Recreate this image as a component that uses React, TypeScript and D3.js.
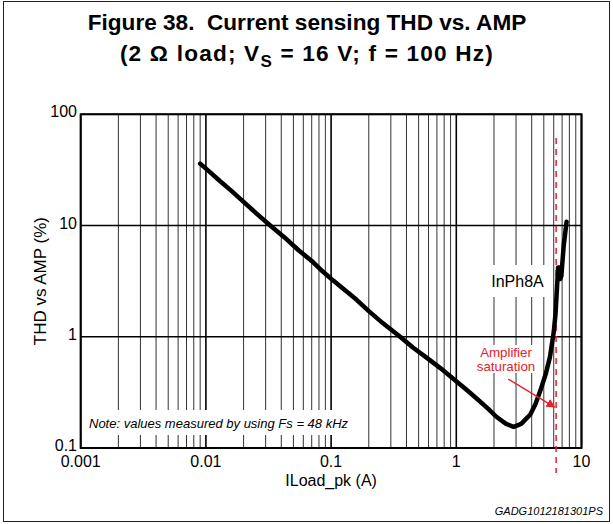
import React from 'react';
import * as d3 from 'd3';

const xTicks = [0.001, 0.01, 0.1, 1, 10];
const xTickLabels = ['0.001', '0.01', '0.1', '1', '10'];
const yTicks = [0.1, 1, 10, 100];
const yTickLabels = ['0.1', '1', '10', '100'];

const current = [0.009, 0.0105, 0.013, 0.016, 0.02, 0.025, 0.033, 0.042, 0.055, 0.07, 0.085, 0.104, 0.13, 0.16, 0.2, 0.26, 0.356, 0.45, 0.6, 0.75, 0.9, 1.05, 1.22, 1.5, 1.8, 2.1, 2.5, 2.87, 3.3, 3.9, 4.3, 4.7, 5.2, 5.6, 6.0, 6.2, 6.4, 6.5, 6.75, 6.75, 6.9, 7.2, 7.6];
const thd = [36, 31, 25, 20.5, 16.3, 13, 9.9, 7.9, 6.0, 4.8, 3.9, 3.2, 2.6, 2.15, 1.7, 1.32, 1.0, 0.8, 0.63, 0.52, 0.44, 0.38, 0.33, 0.27, 0.225, 0.19, 0.165, 0.155, 0.165, 0.2, 0.25, 0.33, 0.47, 0.66, 1.1, 1.6, 3.0, 4.2, 4.2, 3.3, 3.5, 6.5, 10.8];

const seriesName = 'InPh8A';
const saturationCurrent = 6.27;
const arrowFrom = [2.6, 0.417];
const arrowTo = [6.1, 0.233];

export default function App() {
  const W = 613, H = 524;
  const m = { l: 80.7, r: 581.5, t: 114.3, b: 448 };
  const x = d3.scaleLog().domain([0.001, 10]).range([m.l, m.r]);
  const y = d3.scaleLog().domain([0.1, 100]).range([m.b, m.t]);

  const minor: number[] = [];
  [0.001, 0.01, 0.1, 1].forEach((d) => {
    for (let k = 2; k <= 9; k++) minor.push(d * k);
  });

  const line = d3
    .line<number>()
    .x((d) => x(d))
    .y((_, i) => y(thd[i]));

  const font = 'Arial, "Liberation Sans", sans-serif';
  const red = '#e8202a';

  const ax1 = x(arrowFrom[0]), ay1 = y(arrowFrom[1]);
  const ax2 = x(arrowTo[0]), ay2 = y(arrowTo[1]);

  return (
    <svg width={W} height={H} style={{ position: 'absolute', left: 0, top: 0, background: '#fff' }} fontFamily={font}>
      <defs>
        <marker id="arr" viewBox="0 0 10 10" refX="9" refY="5" markerWidth="6" markerHeight="6" orient="auto">
          <path d="M0,0 L10,5 L0,10 z" fill={red} />
        </marker>
      </defs>
      <rect x={3.5} y={1.5} width={606} height={520} fill="#fff" stroke="#222" strokeWidth={1} />

      <text x={307} y={29.5} textAnchor="middle" fontSize={22.6} fontWeight="bold" style={{ whiteSpace: 'pre' }}>
        {'Figure 38.  Current sensing THD vs. AMP'}
      </text>
      <text x={307} y={61} textAnchor="middle" fontSize={22.6} fontWeight="bold" letterSpacing={1.2} style={{ whiteSpace: 'pre' }}>
        <tspan>{'(2 Ω load; V'}</tspan>
        <tspan fontSize={17} dy={6}>S</tspan>
        <tspan dy={-6}>{' = 16 V; f = 100 Hz)'}</tspan>
      </text>

      {/* minor vertical grid */}
      {minor.map((v, i) => (
        <line key={'mn' + i} x1={x(v)} x2={x(v)} y1={m.t} y2={m.b} stroke="#333" strokeWidth={1} />
      ))}
      {/* major grid */}
      {xTicks.map((v, i) => (
        <line key={'mx' + i} x1={x(v)} x2={x(v)} y1={m.t} y2={m.b} stroke="#000" strokeWidth={1.6} />
      ))}
      {yTicks.map((v, i) => (
        <line key={'my' + i} x1={m.l} x2={m.r} y1={y(v)} y2={y(v)} stroke="#000" strokeWidth={1.6} />
      ))}

      {/* white label boxes */}
      <rect x={86} y={410} width={272} height={25} fill="#fff" />
      <text x={89} y={427.5} fontSize={13} fontStyle="italic">Note: values measured by using Fs = 48 kHz</text>

      <rect x={485} y={265} width={63} height={32} fill="#fff" />
      <text x={x(3.08)} y={287} textAnchor="middle" fontSize={16}>{seriesName}</text>

      <rect x={474} y={345} width={64} height={28} fill="#fff" />
      <text x={506} y={357} textAnchor="middle" fontSize={13.3} fill={red}>Amplifier</text>
      <text x={506} y={371} textAnchor="middle" fontSize={13.3} fill={red}>saturation</text>

      {/* frame */}
      <rect x={m.l} y={m.t} width={m.r - m.l} height={m.b - m.t} fill="none" stroke="#000" strokeWidth={2} />

      {/* saturation line */}
      <line x1={x(saturationCurrent)} x2={x(saturationCurrent)} y1={138} y2={473} stroke={red} strokeWidth={1.5} strokeDasharray="6,5" />

      {/* curve */}
      <path d={line(current) || ''} fill="none" stroke="#000" strokeWidth={4.5} strokeLinejoin="round" strokeLinecap="round" />

      {/* arrow */}
      <line x1={ax1} y1={ay1} x2={ax2} y2={ay2} stroke={red} strokeWidth={1.5} markerEnd="url(#arr)" />

      {/* tick labels */}
      {yTicks.map((v, i) => (
        <text key={'yl' + i} x={77} y={y(v) + 3} textAnchor="end" fontSize={16}>{yTickLabels[i]}</text>
      ))}
      {xTicks.map((v, i) => (
        <text key={'xl' + i} x={x(v)} y={467} textAnchor="middle" fontSize={16}>{xTickLabels[i]}</text>
      ))}

      <text x={(m.l + m.r) / 2} y={486} textAnchor="middle" fontSize={16}>ILoad_pk (A)</text>
      <text transform={`translate(46,${(m.t + m.b) / 2}) rotate(-90)`} textAnchor="middle" fontSize={17}>THD vs AMP (%)</text>

      <text x={603} y={515} textAnchor="end" fontSize={11} fontStyle="italic">GADG1012181301PS</text>
    </svg>
  );
}
